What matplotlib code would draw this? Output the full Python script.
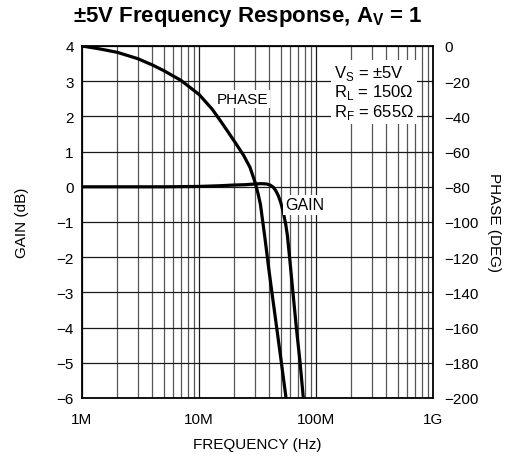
import matplotlib
matplotlib.use("Agg")
import matplotlib.pyplot as plt
import numpy as np
from matplotlib.ticker import FixedLocator, NullFormatter, LogLocator

plt.rcParams['font.family'] = ['Liberation Sans', 'DejaVu Sans']
plt.rcParams['mathtext.fontset'] = 'custom'
plt.rcParams['mathtext.rm'] = 'Liberation Sans'

# Data (frequency in MHz)
gain_freq_mhz = [1, 2, 5, 10, 15, 20, 25, 30, 34, 37.8, 40.5, 43.1, 45.5, 47.6, 50, 52.5, 55, 57.0, 60.0,
                 63.1, 68.1, 73.0, 77.9]
gain_db = [0, 0, 0, 0.01, 0.03, 0.05, 0.06, 0.08, 0.09, 0.08, 0.05, -0.01, -0.12, -0.25, -0.45, -0.72,
           -1.05, -1.39, -2.14, -2.9, -4.04, -4.97, -6.0]

phase_freq_mhz = [1, 1.43, 2, 3, 4, 5, 7, 10, 13, 16, 20, 24, 27.3, 30, 32, 33.5, 36.4, 39.5, 41.6,
                  46.3, 50.5, 55.3]
phase_deg = [0, -1.7, -3.6, -7.2, -10.8, -14.0, -19.5, -27.5, -36, -44.5, -54, -62, -69, -77, -84, -90,
             -107.8, -126.7, -138, -160.8, -179.5, -199.4]

gain_ticks = [4, 3, 2, 1, 0, -1, -2, -3, -4, -5, -6]
phase_ticks = [0, -20, -40, -60, -80, -100, -120, -140, -160, -180, -200]
freq_ticks = [1e6, 1e7, 1e8, 1e9]
freq_labels = ['1M', '10M', '100M', '1G']

fig = plt.figure(figsize=(5.13, 4.60), dpi=100)
ax = fig.add_axes([82/513, 1-399/460, (433-82)/513, (399-47)/460])
ax.set_xscale('log')
ax.set_xlim(1e6, 1e9)
ax.set_ylim(-6, 4)

# grid
ax.xaxis.set_major_locator(FixedLocator(freq_ticks))
ax.xaxis.set_minor_locator(LogLocator(base=10, subs=np.arange(2, 10)))
ax.xaxis.set_minor_formatter(NullFormatter())
ax.set_xticklabels(freq_labels)
ax.set_yticks(gain_ticks)
ax.grid(True, which='major', color='#1a1a1a', lw=0.9)
ax.grid(True, which='minor', axis='x', color='#555555', lw=0.9)
ax.tick_params(which='both', length=0, labelsize=11)
ax.tick_params(axis='x', pad=10)
ax.tick_params(axis='y', pad=6)
for s in ax.spines.values():
    s.set_linewidth(1.3)
    s.set_color('black')

gf = np.array(gain_freq_mhz) * 1e6
ax.plot(gf, gain_db, color='black', lw=2.3, zorder=5, solid_joinstyle='round')

ax2 = ax.twinx()
ax2.set_ylim(-200, 0)
ax2.set_yticks(phase_ticks)
ax2.tick_params(length=0, labelsize=11, pad=8)
for s in ax2.spines.values():
    s.set_visible(False)
pf = np.array(phase_freq_mhz) * 1e6
ax2.plot(pf, phase_deg, color='black', lw=2.3, zorder=5, solid_joinstyle='round')

ax.set_xlabel('FREQUENCY (Hz)', fontsize=11, labelpad=8)
ax.set_ylabel('GAIN (dB)', fontsize=11, labelpad=20)
ax2.set_ylabel('PHASE (DEG)', fontsize=11, rotation=-90, labelpad=16)

fig.text(248/513, 1-17/460, r'±5V Frequency Response, A$_\mathregular{V}$ = 1',
         ha='center', va='center', fontsize=16, fontweight='bold')

bbox = dict(facecolor='white', edgecolor='none', pad=1.5)
fig.text(242/513, 1-100/460, 'PHASE', ha='center', va='center', fontsize=11, bbox=bbox, zorder=10)
fig.text(305/513, 1-206/460, 'GAIN', ha='center', va='center', fontsize=11.5, bbox=bbox, zorder=10)
fig.text(334/513, 1-93/460,
         'V$_\\mathregular{S}$ = ±5V\nR$_\\mathregular{L}$ = 150Ω\nR$_\\mathregular{F}$ = 655Ω',
         ha='left', va='center', fontsize=12, linespacing=1.05,
         bbox=dict(facecolor='white', edgecolor='none', pad=2), zorder=10)

fig.savefig('out.png', dpi=100)
